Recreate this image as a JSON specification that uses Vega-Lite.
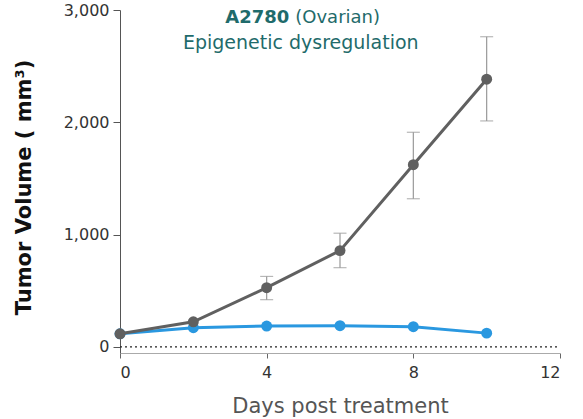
{
  "$schema": "https://vega.github.io/schema/vega-lite/v6.json",
  "width": 440,
  "height": 343,
  "autosize": {"type": "none"},
  "padding": {"left": 120, "top": 10, "right": 23, "bottom": 66},
  "background": "white",
  "config": {
    "view": {"stroke": null},
    "font": "DejaVu Sans",
    "axis": {"grid": false, "labelFont": "DejaVu Sans", "titleFont": "DejaVu Sans", "labelFontSize": 16, "labelColor": "#333", "titleFontSize": 21},
    "axisX": {"titleFontWeight": "normal", "titleColor": "#555", "titlePadding": 15, "labelPadding": 6, "domainColor": "#aaa", "tickColor": "#666", "tickSize": 5},
    "axisY": {"titleFontWeight": "bold", "titleColor": "#111", "titlePadding": 29, "titleY": 177, "labelPadding": 4, "domainColor": "#555", "tickColor": "#555", "tickSize": 7}
  },
  "datasets": {
    "tumor": [
      {"day": 0, "group": "Control", "vol": 116, "lo": 116, "hi": 116},
      {"day": 2, "group": "Control", "vol": 223, "lo": 223, "hi": 223},
      {"day": 4, "group": "Control", "vol": 527, "lo": 420, "hi": 627},
      {"day": 6, "group": "Control", "vol": 857, "lo": 705, "hi": 1012},
      {"day": 8, "group": "Control", "vol": 1622, "lo": 1319, "hi": 1911},
      {"day": 10, "group": "Control", "vol": 2384, "lo": 2012, "hi": 2762},
      {"day": 0, "group": "Treated", "vol": 116, "lo": 116, "hi": 116},
      {"day": 2, "group": "Treated", "vol": 170, "lo": 170, "hi": 170},
      {"day": 4, "group": "Treated", "vol": 185, "lo": 185, "hi": 185},
      {"day": 6, "group": "Treated", "vol": 188, "lo": 188, "hi": 188},
      {"day": 8, "group": "Treated", "vol": 179, "lo": 179, "hi": 179},
      {"day": 10, "group": "Treated", "vol": 122, "lo": 122, "hi": 122}
    ]
  },
  "layer": [
    {
      "data": {"values": [{"day": 0, "v": 0}, {"day": 12, "v": 0}]},
      "mark": {"type": "line", "color": "#222", "strokeDash": [2, 3], "strokeWidth": 1.2},
      "encoding": {
        "x": {"field": "day", "type": "quantitative", "title": "Days post treatment",
          "scale": {"domain": [0, 12], "nice": false},
          "axis": {"values": [0, 4, 8, 12]}},
        "y": {"field": "v", "type": "quantitative", "title": "Tumor Volume ( mm³)",
          "scale": {"domain": [-55, 3000], "nice": false, "zero": false},
          "axis": {"values": [0, 1000, 2000, 3000], "format": ",d"}}
      }
    },
    {
      "data": {"name": "tumor"},
      "transform": [{"filter": "datum.group === 'Control' && datum.hi > datum.lo"}],
      "mark": {"type": "errorbar", "ticks": {"size": 13, "color": "#999"}, "color": "#999", "thickness": 1.2},
      "encoding": {
        "x": {"field": "day", "type": "quantitative", "title": "Days post treatment", "axis": {"values": [0, 4, 8, 12]}},
        "y": {"field": "lo", "type": "quantitative", "title": "Tumor Volume ( mm³)", "axis": {"values": [0, 1000, 2000, 3000], "format": ",d"}},
        "y2": {"field": "hi"}
      }
    },
    {
      "data": {"name": "tumor"},
      "transform": [{"filter": "datum.group === 'Treated'"}],
      "mark": {"type": "line", "color": "#2a98e0", "strokeWidth": 3, "point": {"filled": true, "size": 120, "color": "#2a98e0"}},
      "encoding": {
        "x": {"field": "day", "type": "quantitative", "title": "Days post treatment", "axis": {"values": [0, 4, 8, 12]}},
        "y": {"field": "vol", "type": "quantitative", "title": "Tumor Volume ( mm³)", "axis": {"values": [0, 1000, 2000, 3000], "format": ",d"}}
      }
    },
    {
      "data": {"name": "tumor"},
      "transform": [{"filter": "datum.group === 'Control'"}],
      "mark": {"type": "line", "color": "#606060", "strokeWidth": 3, "point": {"filled": true, "size": 120, "color": "#606060"}},
      "encoding": {
        "x": {"field": "day", "type": "quantitative", "title": "Days post treatment", "axis": {"values": [0, 4, 8, 12]}},
        "y": {"field": "vol", "type": "quantitative", "title": "Tumor Volume ( mm³)", "axis": {"values": [0, 1000, 2000, 3000], "format": ",d"}}
      }
    },
    {
      "data": {"values": [{"label": "A2780"}]},
      "mark": {"type": "text", "align": "right", "baseline": "middle", "font": "DejaVu Sans", "fontSize": 18, "fontWeight": "bold", "color": "#1f6b6b"},
      "encoding": {
        "x": {"datum": 4.62, "title": "Days post treatment", "axis": {"values": [0, 4, 8, 12]}},
        "y": {"datum": 2930, "title": "Tumor Volume ( mm³)", "axis": {"values": [0, 1000, 2000, 3000], "format": ",d"}},
        "text": {"field": "label"}
      }
    },
    {
      "data": {"values": [{"label": "(Ovarian)"}]},
      "mark": {"type": "text", "align": "left", "baseline": "middle", "font": "DejaVu Sans", "fontSize": 18, "color": "#1f6b6b"},
      "encoding": {
        "x": {"datum": 4.78, "title": "Days post treatment", "axis": {"values": [0, 4, 8, 12]}},
        "y": {"datum": 2930, "title": "Tumor Volume ( mm³)", "axis": {"values": [0, 1000, 2000, 3000], "format": ",d"}},
        "text": {"field": "label"}
      }
    },
    {
      "data": {"values": [{"label": "Epigenetic dysregulation"}]},
      "mark": {"type": "text", "align": "center", "baseline": "middle", "font": "DejaVu Sans", "fontSize": 19, "color": "#1f6b6b"},
      "encoding": {
        "x": {"datum": 4.93, "title": "Days post treatment", "axis": {"values": [0, 4, 8, 12]}},
        "y": {"datum": 2705, "title": "Tumor Volume ( mm³)", "axis": {"values": [0, 1000, 2000, 3000], "format": ",d"}},
        "text": {"field": "label"}
      }
    }
  ]
}
